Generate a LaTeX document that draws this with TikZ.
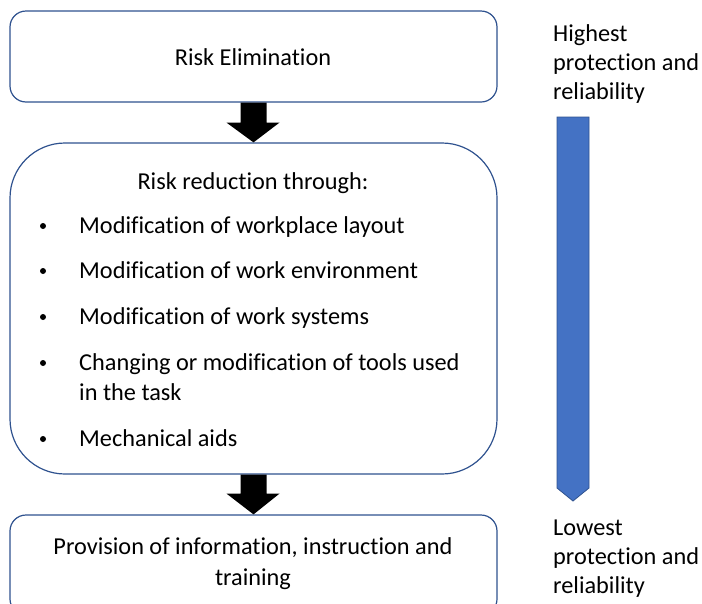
\documentclass[tikz,border=0pt]{standalone}
\usepackage{fontspec}
\setmainfont[Ligatures=NoCommon]{Carlito}
\usetikzlibrary{calc}
\definecolor{boxline}{RGB}{47,82,143}
\definecolor{barfill}{RGB}{68,114,196}
\begin{document}
\begin{tikzpicture}[x=1pt,y=-1pt,
  box/.style={draw=boxline,line width=1.2pt,fill=white,inner sep=0pt},
  txt/.style={font=\fontsize{24.3}{29}\selectfont,inner sep=0pt,anchor=base},
  ltxt/.style={font=\fontsize{24.3}{29}\selectfont,inner sep=0pt,anchor=base west},
  dot/.style={circle,fill=black,inner sep=0pt,minimum size=6pt},
  fatarrow/.style={fill=black}]
\useasboundingbox (0,0) rectangle (702,603);
\clip (0,0) rectangle (702,603);
% boxes
\node[box,rounded corners=16pt,minimum width=487pt,minimum height=91pt] (b1) at (253.5,56.5) {};
\node[box,rounded corners=55pt,minimum width=487pt,minimum height=331pt] (b2) at (253.5,308.5) {};
\node[box,rounded corners=16pt,minimum width=487pt,minimum height=100pt] (b3) at (253.5,565) {};
% arrows
\fill[fatarrow] ($(b1.south)+(-13,0)$) -- ($(b1.south)+(13,0)$) -- ($(b1.south)+(13,20)$) -- ($(b1.south)+(26,20)$) -- (b2.north) -- ($(b1.south)+(-27,20)$) -- ($(b1.south)+(-13,20)$) -- cycle;
\fill[fatarrow] ($(b2.south)+(-13,0)$) -- ($(b2.south)+(13,0)$) -- ($(b2.south)+(13,19)$) -- ($(b2.south)+(26,19)$) -- (b3.north) -- ($(b2.south)+(-27,19)$) -- ($(b2.south)+(-13,19)$) -- cycle;
% texts
\node[txt] (t1) at (253,65) {Risk Elimination};
\node[txt] (t2) at (253,189) {Risk reduction through:};
\foreach \y/\s [count=\i] in {233/Modification of workplace layout,278/Modification of work environment,324/Modification of work systems,370/Changing or modification of tools used,446/Mechanical aids}{
  \node[ltxt] (l\i) at (79,\y) {\s};
}
\node[ltxt] (l4b) at (79,400) {in the task};
\foreach \y [count=\i] in {233,278,324,370,446}{
  \node[dot] (d\i) at (43,\y-7) {};
}
\node[txt] (t3a) at (253,554) {Provision of information, instruction and};
\node[txt] (t3b) at (253,585) {training};
% side bar
\coordinate (bt) at (573,117);
\coordinate (bb) at (573,501);
\fill[barfill,draw=boxline,line width=0.8pt] ($(bt)+(-16,0)$) -- ($(bt)+(16,0)$) -- ($(bb)+(16,-13)$) -- (bb) -- ($(bb)+(-16,-13)$) -- cycle;
\node[ltxt] (h1) at (553,41) {Highest};
\node[ltxt] (h2) at (553,70) {protection and};
\node[ltxt] (h3) at (553,99) {reliability};
\node[ltxt] (w1) at (553,535) {Lowest};
\node[ltxt] (w2) at (553,564) {protection and};
\node[ltxt] (w3) at (553,593) {reliability};
\end{tikzpicture}
\end{document}
